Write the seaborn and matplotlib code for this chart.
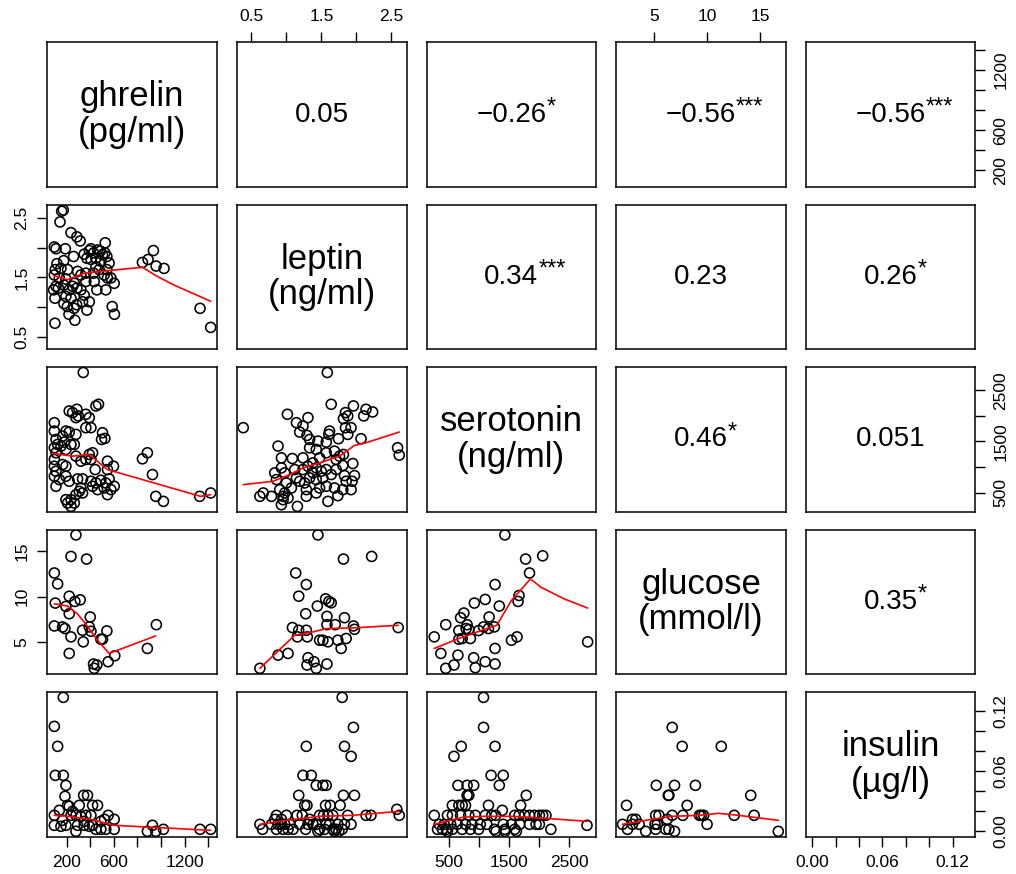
import matplotlib
matplotlib.use("Agg")
import matplotlib.pyplot as plt
import seaborn as sns

# ---------------- variables / labels ----------------
variables = ["ghrelin", "leptin", "serotonin", "glucose", "insulin"]
diag_labels = ["ghrelin\n(pg/ml)", "leptin\n(ng/ml)", "serotonin\n(ng/ml)",
               "glucose\n(mmol/l)", "insulin\n(µg/l)"]

# correlation panels (upper triangle): (row, col), number, significance stars
cor_cells = [(0, 1), (0, 2), (0, 3), (0, 4), (1, 2), (1, 3), (1, 4), (2, 3), (2, 4), (3, 4)]
cor_numbers = ["0.05", "−0.26", "−0.56", "−0.56", "0.34", "0.23", "0.26", "0.46", "0.051", "0.35"]
cor_stars = ["", "*", "***", "***", "***", "", "*", "*", "", "*"]

# axis ticks and tick labels per variable
ghrelin_ticks = [200, 400, 600, 800, 1000, 1200, 1400]
ghrelin_ticklabels = ["200", "", "600", "", "", "1200", ""]
leptin_ticks = [0.5, 1.0, 1.5, 2.0, 2.5]
leptin_ticklabels = ["0.5", "", "1.5", "", "2.5"]
serotonin_ticks = [500, 1000, 1500, 2000, 2500]
serotonin_ticklabels = ["500", "", "1500", "", "2500"]
glucose_ticks = [5, 10, 15]
glucose_ticklabels = ["5", "10", "15"]
insulin_ticks = [0.00, 0.02, 0.04, 0.06, 0.08, 0.10, 0.12]
insulin_ticklabels = ["0.00", "", "", "0.06", "", "", "0.12"]

# ---------------- scatter data (lower triangle) ----------------
# ghrelin (x) vs leptin (y)
ghr_lep_x = [158, 172, 144, 96, 110, 189, 237, 287, 315, 527, 259, 349, 392, 406, 428, 462, 485, 504, 372, 406,
             448, 490, 524, 541, 560, 118, 152, 175, 104, 208, 96, 138, 194, 293, 321, 363, 428, 476, 541, 546,
             434, 603, 575, 110, 130, 90, 101, 222, 251, 287, 321, 349, 194, 237, 335, 392, 456, 532, 177, 206,
             262, 285, 372, 220, 270, 586, 605, 101, 842, 890, 935, 958, 1025, 1330, 1420, 448, 265, 363, 518, 177]
ghr_lep_y = [2.61, 2.63, 2.43, 2.01, 1.98, 1.98, 2.25, 2.18, 2.11, 2.08, 1.85, 1.89, 1.95, 1.98, 1.91, 1.96, 1.94, 1.88, 1.82, 1.80,
             1.82, 1.77, 1.91, 1.85, 1.74, 1.73, 1.65, 1.78, 1.63, 1.63, 1.54, 1.49, 1.47, 1.60, 1.54, 1.57, 1.57, 1.63, 1.63, 1.49,
             1.43, 1.40, 1.49, 1.35, 1.32, 1.29, 1.15, 1.29, 1.35, 1.32, 1.29, 1.20, 1.18, 1.15, 1.09, 1.09, 1.29, 1.29, 1.06, 1.01,
             0.98, 1.04, 0.95, 0.88, 0.78, 1.01, 0.88, 0.73, 1.75, 1.80, 1.95, 1.69, 1.65, 0.98, 0.66, 1.68, 1.40, 1.43, 1.54, 1.37]
ghr_lep_fit_x = [90, 208, 349, 490, 842, 955, 1110, 1420]
ghr_lep_fit_y = [1.53, 1.46, 1.57, 1.60, 1.67, 1.53, 1.37, 1.10]

# ghrelin (x) vs serotonin (y)
ghr_ser_x = [341, 96, 96, 110, 124, 96, 110, 96, 96, 110, 96, 166, 194, 222, 279, 222, 251, 287, 299, 279,
             363, 392, 448, 470, 363, 406, 504, 496, 524, 152, 194, 180, 237, 265, 279, 392, 420, 321, 363, 406,
             166, 194, 442, 546, 597, 546, 194, 222, 293, 335, 406, 448, 490, 532, 560, 420, 462, 518, 575, 603,
             546, 321, 307, 279, 194, 237, 208, 265, 237, 335, 842, 884, 927, 955, 1020, 1327, 1420, 110, 138]
ghr_ser_y = [2850, 1868, 1704, 1540, 1442, 1377, 1279, 1148, 1016, 918, 820, 1606, 1704, 1684, 1639, 2097, 2065, 2130, 1999, 1966,
             2032, 1966, 2195, 2228, 1770, 1770, 1671, 1540, 1560, 1410, 1344, 1488, 1442, 1442, 1213, 1246, 1279, 1115, 1148, 1148,
             1049, 1016, 951, 1115, 1016, 951, 820, 722, 768, 768, 722, 689, 742, 689, 768, 624, 558, 591, 558, 624,
             460, 591, 525, 460, 362, 362, 296, 296, 230, 493, 1161, 1279, 853, 427, 329, 427, 493, 624, 755]
ghr_ser_fit_x = [90, 251, 392, 546, 1335, 1420]
ghr_ser_fit_y = [1265, 1213, 1246, 951, 427, 460]

# ghrelin (x) vs glucose (y)
ghr_glu_x = [279, 96, 124, 237, 369, 104, 194, 222, 270, 315, 222, 96, 166, 186, 237, 335, 400, 392, 406, 341,
             222, 490, 504, 541, 428, 456, 434, 552, 608, 884, 960]
ghr_glu_y = [16.83, 12.62, 11.41, 14.45, 14.16, 9.29, 8.92, 10.05, 9.47, 9.65, 8.11, 6.76, 6.65, 6.47, 5.55, 6.28, 7.75, 6.65, 6.17, 5.0,
             3.72, 5.29, 5.29, 6.21, 2.55, 2.44, 2.07, 2.80, 3.46, 4.27, 6.90]
ghr_glu_fit_x = [96, 208, 290, 349, 462, 560, 955]
ghr_glu_fit_y = [9.21, 8.96, 8.11, 7.20, 5.18, 3.72, 5.66]

# ghrelin (x) vs insulin (y)
ghr_ins_x = [172, 96, 124, 104, 172, 194, 186, 208, 222, 307, 344, 377, 420, 462, 138, 96, 96, 166, 194, 237,
             279, 321, 363, 406, 279, 293, 349, 392, 420, 448, 490, 532, 490, 521, 552, 603, 603, 884, 927, 955,
             1020, 1330, 1420, 251, 349, 152]
ghr_ins_y = [0.134, 0.105, 0.085, 0.056, 0.056, 0.046, 0.035, 0.026, 0.025, 0.026, 0.036, 0.036, 0.026, 0.026, 0.021, 0.016, 0.006, 0.011, 0.006, 0.016,
             0.016, 0.015, 0.016, 0.016, 0.0, 0.006, 0.006, 0.005, 0.006, 0.002, 0.002, 0.002, 0.010, 0.012, 0.016, 0.012, 0.002, 0.0, 0.006, 0.0,
             0.002, 0.002, 0.002, 0.020, 0.010, 0.005]
ghr_ins_fit_x = [96, 208, 406, 603, 1420]
ghr_ins_fit_y = [0.016, 0.015, 0.012, 0.006, 0.001]

# leptin (x) vs serotonin (y)
lep_ser_x = [1.585, 0.382, 1.014, 1.143, 1.308, 1.237, 1.190, 1.294, 1.332,
             1.641, 1.845, 1.878, 1.959, 1.816, 2.139, 2.234, 2.106, 1.845, 1.925, 1.878, 1.617, 1.607, 1.745, 2.068,
             1.451, 1.570, 0.880, 0.928, 1.085, 1.237, 1.332, 1.427, 1.570, 1.688, 1.760, 1.816, 1.475, 1.380, 0.928, 0.833,
             0.975, 0.857, 0.999, 1.143, 1.237, 1.308, 1.380, 1.427, 1.499, 1.570, 1.641, 1.522, 1.427, 1.332, 1.261, 1.190,
             1.712, 1.807, 1.950, 1.831, 1.974, 1.855, 1.940, 1.925, 1.807, 1.688, 1.570, 1.475, 1.285, 1.071, 0.904, 0.975,
             0.620, 0.668, 0.786, 0.952, 1.023, 0.928, 1.157, 1.285, 1.427, 1.594, 1.736, 2.591, 2.615, 0.952, 1.712, 1.119]
lep_ser_y = [2850, 1770, 2032, 1868, 1966, 1803, 1684, 1619, 1540,
             2228, 2065, 2000, 2196, 1947, 2130, 2078, 2000, 1770, 1770, 1639, 1704, 1639, 1554, 1554,
             1508, 1488, 1410, 1180, 1167, 1180, 1377, 1344, 1279, 1311, 1213, 1246, 1180, 1082, 984, 886,
             886, 755, 689, 787, 951, 1016, 886, 984, 918, 951, 853, 787, 755, 787, 689, 722,
             951, 1030, 1069, 833, 833, 722, 722, 558, 558, 591, 624, 591, 558, 591, 558, 493,
             427, 493, 427, 362, 394, 263, 230, 427, 493, 329, 440, 1377, 1233, 427, 1148, 951]
lep_ser_fit_x = [0.382, 0.810, 1.048, 1.237, 1.475, 1.760, 1.974, 2.139, 2.615]
lep_ser_fit_y = [656, 722, 853, 984, 1082, 1213, 1423, 1475, 1685]

# leptin (x) vs glucose (y)
lep_glu_x = [1.451, 1.816, 2.220, 1.133, 1.285, 1.176, 1.561, 1.608, 1.641, 1.442, 1.276, 1.580, 1.831, 1.580, 1.698, 1.086, 1.176, 1.285, 1.960, 1.974,
             2.600, 1.157, 1.299, 1.475, 1.522, 1.594, 1.736, 1.855, 1.783, 0.880, 1.023, 0.620, 1.309, 1.294, 1.394, 1.427, 1.580]
lep_glu_y = [16.83, 14.16, 14.45, 12.62, 11.34, 10.05, 9.76, 9.47, 9.32, 8.96, 8.11, 7.82, 7.67, 6.90, 6.90, 6.58, 6.28, 6.28, 6.76, 6.39,
             6.58, 5.55, 5.55, 5.18, 5.18, 5.0, 5.18, 5.37, 4.27, 3.53, 3.72, 2.07, 3.24, 2.44, 2.80, 2.07, 2.55]
lep_glu_fit_x = [0.620, 1.119, 1.380, 1.570, 1.950, 2.600]
lep_glu_fit_y = [2.07, 5.73, 6.10, 6.47, 6.54, 6.83]

# leptin (x) vs insulin (y)
lep_ins_x = [1.798, 1.959, 1.285, 1.831, 1.926, 1.237, 1.356, 1.427, 1.522, 1.570, 1.176, 1.816, 1.974, 1.261, 1.294, 1.560, 1.627, 1.769,
             0.857, 1.0, 1.151, 1.227, 1.474, 1.531, 1.593, 1.664, 1.878, 2.139, 2.210, 2.615, 2.580, 0.833, 0.928, 1.332,
             0.620, 0.786, 0.881, 0.928, 0.976, 1.047, 1.189, 1.308, 1.380, 1.427, 1.569, 1.617, 1.736, 1.831, 1.925,
             0.658, 0.857, 0.952, 1.023, 1.094, 1.275, 1.474, 1.546, 1.664, 1.712, 1.797, 1.451, 1.688, 1.750]
lep_ins_y = [0.134, 0.104, 0.085, 0.085, 0.075, 0.056, 0.056, 0.046, 0.046, 0.046, 0.036, 0.036, 0.036, 0.026, 0.026, 0.026, 0.026, 0.026,
             0.016, 0.016, 0.016, 0.016, 0.016, 0.016, 0.016, 0.016, 0.016, 0.016, 0.016, 0.016, 0.022, 0.012, 0.012, 0.012,
             0.007, 0.007, 0.007, 0.007, 0.007, 0.007, 0.007, 0.007, 0.007, 0.007, 0.007, 0.007, 0.007, 0.007, 0.007,
             0.002, 0.002, 0.002, 0.002, 0.002, 0.002, 0.002, 0.002, 0.002, 0.002, 0.002, 0.0, 0.0, 0.0]
lep_ins_fit_x = [0.620, 1.0, 1.474, 1.950, 2.615]
lep_ins_fit_y = [0.007, 0.011, 0.015, 0.016, 0.020]

# serotonin (x) vs glucose (y)
ser_glu_x = [1431, 1777, 2062, 1842, 1267, 1667, 1651, 922, 1103, 1338, 747, 692, 1168, 445, 801, 664, 785, 829, 993, 1075,
             1157, 1256, 253, 664, 719, 856, 1541, 1634, 2812, 363, 648, 1267, 911, 582, 445, 938, 1103, 1267]
ser_glu_y = [16.83, 14.16, 14.52, 12.62, 11.34, 10.13, 9.47, 9.29, 9.69, 8.96, 8.19, 7.67, 7.75, 6.90, 6.90, 6.25, 6.47, 6.36, 6.25, 6.65,
             6.47, 6.65, 5.55, 5.29, 5.37, 5.37, 5.18, 5.55, 5.0, 3.72, 3.53, 4.27, 3.24, 2.44, 2.07, 2.14, 2.80, 2.55]
ser_glu_fit_x = [253, 664, 1048, 1295, 1541, 1859, 2034, 2418, 2812]
ser_glu_fit_y = [4.27, 5.37, 6.28, 6.83, 9.58, 11.96, 11.04, 9.76, 8.74]

# serotonin (x) vs insulin (y)
ser_ins_x = [1075, 1075, 582, 703, 1267, 1201, 1404, 648, 801, 911, 1338, 801, 829, 1788, 555, 664, 719, 774, 1157, 1694, 1388, 2801,
             253, 473, 555, 692, 829, 938, 1103, 1212, 1278, 1596, 1667, 1760, 1842, 1925, 2007, 2062, 2116,
             336, 418, 527, 637, 774, 884, 1021, 1130, 1404, 1541, 1678, 1842, 1952, 2007,
             308, 390, 456, 555, 719, 856, 993, 1256, 1431, 1596, 2198, 473, 1284, 1431, 1623]
ser_ins_y = [0.134, 0.104, 0.075, 0.085, 0.085, 0.056, 0.056, 0.046, 0.046, 0.046, 0.046, 0.036, 0.036, 0.036, 0.026, 0.026, 0.026, 0.026, 0.026, 0.026, 0.021, 0.006,
             0.016, 0.016, 0.016, 0.016, 0.016, 0.016, 0.016, 0.016, 0.016, 0.016, 0.016, 0.016, 0.016, 0.016, 0.016, 0.016, 0.016,
             0.007, 0.007, 0.007, 0.007, 0.007, 0.007, 0.007, 0.007, 0.007, 0.007, 0.007, 0.007, 0.007, 0.007,
             0.002, 0.002, 0.002, 0.002, 0.002, 0.002, 0.002, 0.002, 0.002, 0.002, 0.002, 0.0, 0.0, 0.0, 0.0]
ser_ins_fit_x = [253, 719, 1048, 1541, 1870, 2801]
ser_ins_fit_y = [0.007, 0.014, 0.015, 0.015, 0.014, 0.010]

# glucose (x) vs insulin (y)
glu_ins_x = [6.70, 7.64, 11.33, 5.20, 6.92, 8.89, 6.33, 6.39, 14.11, 2.39, 8.11,
             5.14, 5.45, 6.70, 7.70, 9.27, 9.45, 9.67, 12.55, 14.43, 2.95, 3.26, 6.23,
             2.01, 2.95, 3.58, 5.08, 5.29, 9.99, 2.48, 5.14, 6.08, 6.39, 4.20, 6.92, 16.71]
glu_ins_y = [0.104, 0.085, 0.085, 0.046, 0.046, 0.046, 0.036, 0.036, 0.036, 0.026, 0.026,
             0.016, 0.016, 0.016, 0.016, 0.016, 0.016, 0.016, 0.016, 0.016, 0.012, 0.012, 0.012,
             0.007, 0.007, 0.007, 0.007, 0.007, 0.007, 0.002, 0.002, 0.002, 0.002, 0.0, 0.0, 0.0]
glu_ins_fit_x = [2.01, 4.20, 6.70, 9.20, 11.08, 12.96, 16.71]
glu_ins_fit_y = [0.007, 0.011, 0.015, 0.016, 0.018, 0.016, 0.011]

# ---------------- assemble ----------------
panels = {
    (1, 0): (ghr_lep_x, ghr_lep_y, ghr_lep_fit_x, ghr_lep_fit_y),
    (2, 0): (ghr_ser_x, ghr_ser_y, ghr_ser_fit_x, ghr_ser_fit_y),
    (3, 0): (ghr_glu_x, ghr_glu_y, ghr_glu_fit_x, ghr_glu_fit_y),
    (4, 0): (ghr_ins_x, ghr_ins_y, ghr_ins_fit_x, ghr_ins_fit_y),
    (2, 1): (lep_ser_x, lep_ser_y, lep_ser_fit_x, lep_ser_fit_y),
    (3, 1): (lep_glu_x, lep_glu_y, lep_glu_fit_x, lep_glu_fit_y),
    (4, 1): (lep_ins_x, lep_ins_y, lep_ins_fit_x, lep_ins_fit_y),
    (3, 2): (ser_glu_x, ser_glu_y, ser_glu_fit_x, ser_glu_fit_y),
    (4, 2): (ser_ins_x, ser_ins_y, ser_ins_fit_x, ser_ins_fit_y),
    (4, 3): (glu_ins_x, glu_ins_y, glu_ins_fit_x, glu_ins_fit_y),
}
ticks = [(ghrelin_ticks, ghrelin_ticklabels), (leptin_ticks, leptin_ticklabels),
         (serotonin_ticks, serotonin_ticklabels), (glucose_ticks, glucose_ticklabels),
         (insulin_ticks, insulin_ticklabels)]

# per-variable data range -> R-style 4% padded limits
values = {k: [] for k in range(5)}
for (r, c), (px, py, _, _) in panels.items():
    values[c] += list(px)
    values[r] += list(py)
lims = {}
for k, v in values.items():
    lo, hi = min(v), max(v)
    pad = 0.04 * (hi - lo)
    lims[k] = (lo - pad, hi + pad)

sns.set_style("white")
plt.rcParams["font.family"] = ["Liberation Sans", "DejaVu Sans"]
plt.rcParams["axes.unicode_minus"] = True
for key in ("text.color", "axes.labelcolor", "xtick.color", "ytick.color", "axes.edgecolor"):
    plt.rcParams[key] = "black"

fig, axes = plt.subplots(5, 5, figsize=(10.16, 8.74), dpi=100)
fig.subplots_adjust(left=0.0466, right=0.9601, bottom=0.0427, top=0.9517, wspace=0.118, hspace=0.123)

TICK_FS = 12.5
for r in range(5):
    for c in range(5):
        ax = axes[r, c]
        ax.set_xlim(*lims[c])
        ax.set_ylim(*lims[r])
        for sp in ax.spines.values():
            sp.set_visible(True)
            sp.set_color("black")
            sp.set_linewidth(1.1)
        ax.tick_params(which="both", bottom=False, top=False, left=False, right=False,
                       labelbottom=False, labeltop=False, labelleft=False, labelright=False,
                       colors="black")
        ax.set_xticks([])
        ax.set_yticks([])

        if (r, c) in panels:
            px, py, fx, fy = panels[(r, c)]
            sns.scatterplot(x=px, y=py, ax=ax, s=52, color="black", linewidth=1.15)
            coll = ax.collections[-1]
            coll.set_facecolor("none")
            coll.set_edgecolor("black")
            sns.lineplot(x=fx, y=fy, ax=ax, color="red", linewidth=1.2, sort=False, estimator=None)
        elif r == c:
            ax.text(0.5, 0.5, diag_labels[r], transform=ax.transAxes, ha="center", va="center",
                    fontsize=25, linespacing=1.1, multialignment="center", color="black")
        ax.set_xlabel("")
        ax.set_ylabel("")

        # axes on the margins, R pairs() style
        if r == 0 and c in (1, 3):
            t, l = ticks[c]
            ax.set_xticks(t, labels=l)
            ax.tick_params(axis="x", top=True, labeltop=True, length=7, width=1, pad=6, labelsize=TICK_FS)
        if r == 4 and c in (0, 2, 4):
            t, l = ticks[c]
            ax.set_xticks(t, labels=l)
            ax.tick_params(axis="x", bottom=True, labelbottom=True, length=7, width=1, pad=6, labelsize=TICK_FS)
        if c == 0 and r in (1, 3):
            t, l = ticks[r]
            ax.set_yticks(t, labels=l)
            ax.tick_params(axis="y", left=True, labelleft=True, length=7, width=1, pad=6,
                           labelsize=TICK_FS, labelrotation=90)
            for lb in ax.get_yticklabels():
                lb.set_va("center")
        if c == 4 and r in (0, 2, 4):
            t, l = ticks[r]
            ax.set_yticks(t, labels=l)
            ax.tick_params(axis="y", right=True, labelright=True, length=7, width=1, pad=6,
                           labelsize=TICK_FS, labelrotation=90)
            for lb in ax.get_yticklabels():
                lb.set_va("center")

for (r, c), num, stars in zip(cor_cells, cor_numbers, cor_stars):
    ax = axes[r, c]
    t = ax.text(0.5, 0.5, num, transform=ax.transAxes, ha="center", va="center", fontsize=20, color="black")
    if stars:
        ax.annotate(stars, xy=(1.0, 0.78), xycoords=t, ha="left", va="center", fontsize=17, color="black")

fig.savefig("out.png", dpi=100)
